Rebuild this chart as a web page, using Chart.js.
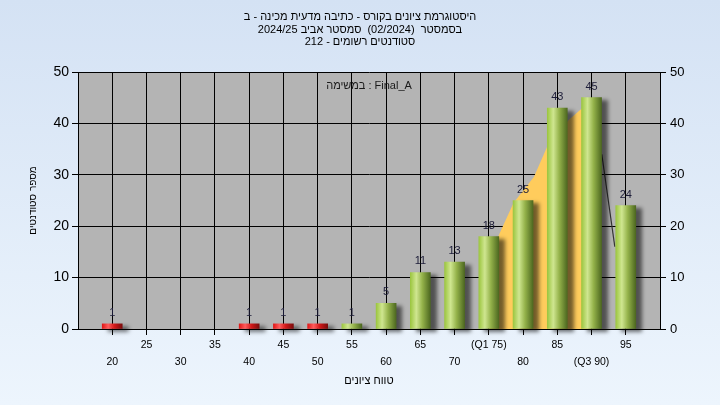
<!DOCTYPE html>
<html>
<head>
<meta charset="utf-8">
<script src="https://cdn.jsdelivr.net/npm/chart.js@4.4.1/dist/chart.umd.min.js"></script>
<style>
  html, body { margin: 0; padding: 0; background: #e4eefa; }
</style>
</head>
<body>
<canvas id="hist" width="720" height="405"></canvas>
<script>
// grade buckets and number of students in each one
const scores = [20, 25, 30, 35, 40, 45, 50, 55, 60, 65, 70, 75, 80, 85, 90, 95]
const counts = [1, 0, 0, 0, 1, 1, 1, 1, 5, 11, 13, 18, 25, 43, 45, 24]
// labels alternate between two rows under the axis
const tickLabels = [['', '20'], ['25'], ['', '30'], ['35'], ['', '40'], ['45'], ['', '50'], ['55'],
  ['', '60'], ['65'], ['', '70'], ['(Q1 75)'], ['', '80'], ['85'], ['', '(Q3 90)'], ['95']]
// yellow band between Q1 and Q3
const bandX = [75, 76.6, 78.6, 81.6, 83.5, 86.7, 88.5, 90]
const bandY = [14, 18.7, 24.5, 29.6, 35.4, 40.7, 42.8, 45]
// small piece of dark curve visible between the 90 and 95 bars
const curveX = [91.5, 93.4]
const curveY = [34, 16]
const passMark = 55

const titleLines = [
  'היסטוגרמת ציונים בקורס - כתיבה מדעית מכינה - ב',
  'בסמסטר  (02/2024)  סמסטר אביב 2024/25',
  'סטודנטים רשומים - 212'
]
const noteText = 'במשימה : Final_A'
const xTitle = 'טווח ציונים'
const yTitle = 'מספר סטודנטים'

const FONT = '"Liberation Sans", Arial, sans-serif'

function barColor(c) {
  const chart = c.chart
  if (!chart.chartArea || !c.raw) return '#9cc443'
  const x = chart.scales.x.getPixelForValue(c.raw.x)
  const g = chart.ctx.createLinearGradient(x - 10, 0, x + 10, 0)
  if (c.raw.x < passMark) {
    g.addColorStop(0, '#e01818')
    g.addColorStop(0.3, '#ff5c5c')
    g.addColorStop(0.6, '#d41a1a')
    g.addColorStop(1, '#7c0d0d')
  } else {
    g.addColorStop(0, '#9cc640')
    g.addColorStop(0.3, '#cfe690')
    g.addColorStop(0.6, '#94b24a')
    g.addColorStop(1, '#4d6820')
  }
  return g
}

// page gradient + grey plot area
const backdrop = {
  id: 'backdrop',
  beforeDraw(chart) {
    const { ctx, width, height, chartArea } = chart
    ctx.save()
    const g = ctx.createLinearGradient(0, 0, 0, height)
    g.addColorStop(0, '#d4e2f4')
    g.addColorStop(1, '#edf5fd')
    ctx.fillStyle = g
    ctx.fillRect(0, 0, width, height)
    ctx.fillStyle = '#b4b4b4'
    ctx.fillRect(chartArea.left, chartArea.top, chartArea.right - chartArea.left, chartArea.bottom - chartArea.top)
    ctx.restore()
  },
  beforeDatasetsDraw(chart) {
    const { ctx, chartArea } = chart
    ctx.save()
    ctx.font = '11px ' + FONT
    ctx.fillStyle = '#1a1a1a'
    ctx.textAlign = 'center'
    ctx.textBaseline = 'middle'
    ctx.fillText(noteText, (chartArea.left + chartArea.right) / 2, chartArea.top + 14)
    ctx.restore()
  }
}

// drop shadow behind the bars
const barShadow = {
  id: 'barShadow',
  beforeDatasetDraw(chart, args) {
    if (args.index !== 0) return
    const ctx = chart.ctx
    ctx.save()
    ctx.shadowColor = 'rgba(0,0,0,0.55)'
    ctx.shadowBlur = 4
    ctx.shadowOffsetX = 6
    ctx.shadowOffsetY = 3
  },
  afterDatasetDraw(chart, args) {
    if (args.index === 0) chart.ctx.restore()
  }
}

const valueLabels = {
  id: 'valueLabels',
  afterDatasetsDraw(chart) {
    const ctx = chart.ctx
    const meta = chart.getDatasetMeta(0)
    ctx.save()
    ctx.font = '11px ' + FONT
    ctx.fillStyle = '#1c1c38'
    ctx.textAlign = 'center'
    ctx.textBaseline = 'middle'
    meta.data.forEach((bar, i) => {
      if (counts[i] > 0) ctx.fillText(counts[i], bar.x, bar.y - 11)
    })
    ctx.restore()
  }
}

const data = {
  datasets: [
    {
      type: 'bar',
      // empty buckets get no bar at all
      data: scores.map((s, i) => ({ x: s, y: counts[i] > 0 ? counts[i] : null })),
      backgroundColor: barColor,
      borderWidth: 0,
      barThickness: 20,
      clip: false,
      order: 0
    },
    {
      type: 'line',
      data: bandX.map((x, i) => ({ x: x, y: bandY[i] })),
      borderWidth: 0,
      pointRadius: 0,
      fill: 'origin',
      backgroundColor: 'rgb(255,204,92)',
      order: 2
    },
    {
      type: 'line',
      data: curveX.map((x, i) => ({ x: x, y: curveY[i] })),
      borderColor: '#333333',
      borderWidth: 1.2,
      pointRadius: 0,
      fill: false,
      order: 1
    }
  ]
}

const config = {
  data: data,
  options: {
    responsive: false,
    animation: false,
    layout: { padding: 0 },
    plugins: {
      legend: { display: false },
      tooltip: { enabled: false },
      title: {
        display: true,
        text: titleLines,
        color: '#000',
        font: { family: FONT, size: 11, weight: 'normal', lineHeight: '12.5px' },
        padding: { top: 11, bottom: 23.5 }
      }
    },
    scales: {
      x: {
        type: 'linear',
        min: 15,
        max: 100,
        offset: false,
        afterBuildTicks: (scale) => { scale.ticks = scores.map(v => ({ value: v })) },
        afterFit: (scale) => { scale.height = 76 },
        ticks: {
          autoSkip: false,
          maxRotation: 0,
          padding: 2,
          color: '#000',
          font: { family: FONT, size: 10.5, lineHeight: '17px' },
          callback: (value) => tickLabels[scores.indexOf(value)]
        },
        grid: { offset: false, color: '#000', lineWidth: 1, tickLength: 6 },
        border: { color: '#000' },
        title: {
          display: true,
          text: xTitle,
          color: '#000',
          font: { family: FONT, size: 11 },
          padding: { top: 0, bottom: 17.5 }
        }
      },
      y: {
        position: 'left',
        min: 0,
        max: 50,
        afterFit: (scale) => { scale.width = 78 },
        ticks: { stepSize: 10, padding: 3, color: '#000', font: { family: FONT, size: 14 } },
        grid: { color: '#000', lineWidth: 1, tickLength: 6 },
        border: { color: '#000' },
        title: {
          display: true,
          text: yTitle,
          color: '#000',
          font: { family: FONT, size: 10 },
          padding: { top: 27, bottom: 0 }
        }
      },
      y1: {
        position: 'right',
        min: 0,
        max: 50,
        afterFit: (scale) => { scale.width = 60 },
        ticks: { stepSize: 10, padding: 4, color: '#000', font: { family: FONT, size: 13 } },
        grid: { drawOnChartArea: false, color: '#000', tickLength: 6 },
        border: { color: '#000' }
      }
    }
  },
  plugins: [backdrop, barShadow, valueLabels]
}

let histChart = new Chart(document.getElementById('hist'), config)
</script>
</body>
</html>
